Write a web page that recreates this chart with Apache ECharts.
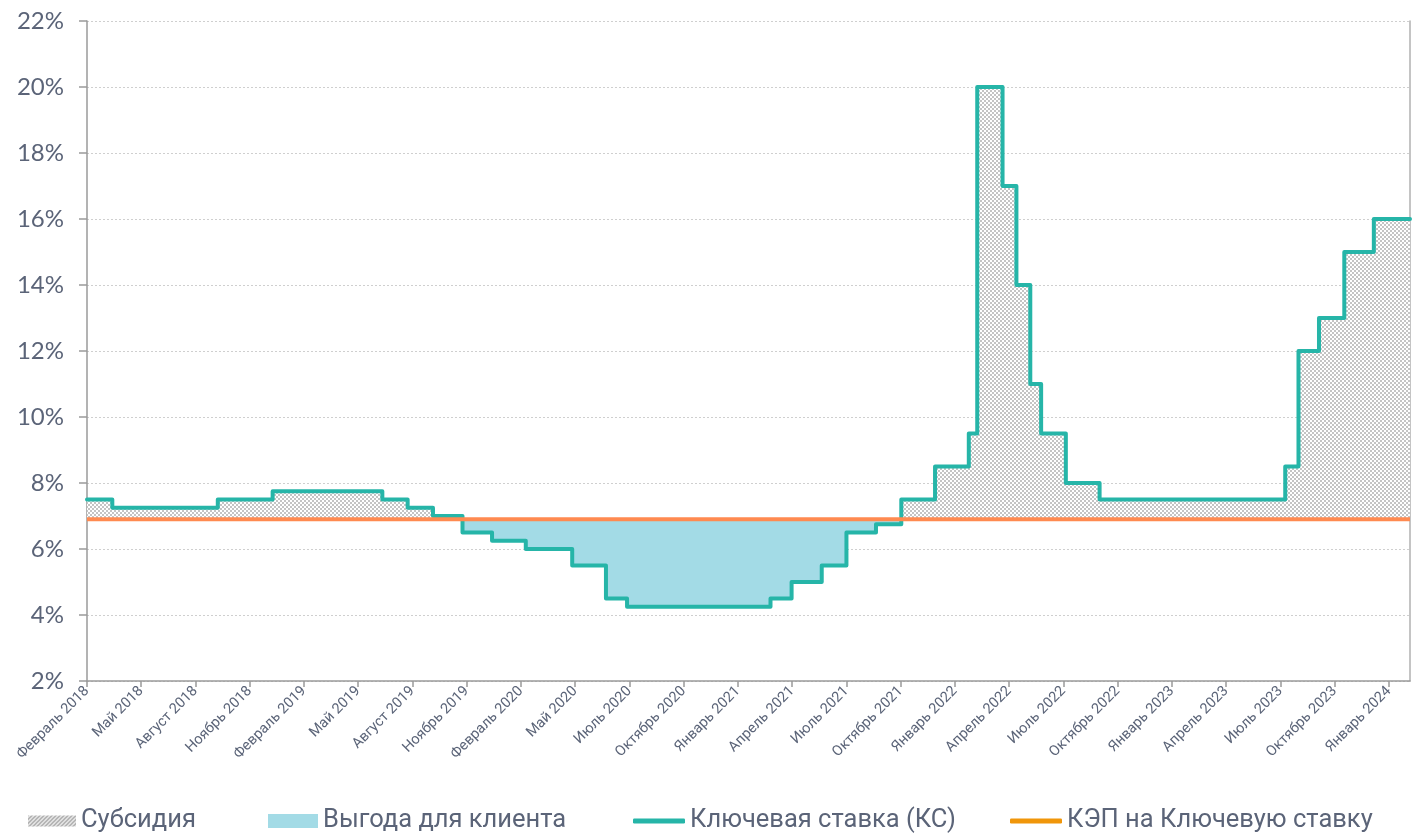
<!DOCTYPE html>
<html><head><meta charset="utf-8">
<script src="https://cdn.jsdelivr.net/npm/echarts@6/dist/echarts.min.js"></script>
<style>html,body{margin:0;padding:0;background:#fff}#c{width:1412px;height:833px}</style>
</head><body><div id="c"></div>
<script>
// Key rate change dates and values (%)
const rateDates = ['2018-02-12','2018-03-26','2018-09-17','2018-12-17','2019-06-17','2019-07-29','2019-09-09','2019-10-28','2019-12-16','2020-02-10','2020-04-27','2020-06-22','2020-07-27','2021-03-22','2021-04-26','2021-06-15','2021-07-26','2021-09-13','2021-10-25','2021-12-20','2022-02-14','2022-02-28','2022-04-11','2022-05-04','2022-05-27','2022-06-14','2022-07-25','2022-09-19','2023-07-24','2023-08-15','2023-09-18','2023-10-30','2023-12-18'];
const rateValues = [7.5,7.25,7.5,7.75,7.5,7.25,7.0,6.5,6.25,6.0,5.5,4.5,4.25,4.5,5.0,5.5,6.5,6.75,7.5,8.5,9.5,20,17,14,11,9.5,8.0,7.5,8.5,12,13,15,16];
const kepValue = 6.9;
const axisStart = '2018-02-12';
const axisEnd = '2024-02-16';
const tickDates = ['2018-02-12','2018-05-13','2018-08-11','2018-11-09','2019-02-07','2019-05-08','2019-08-06','2019-11-04','2020-02-02','2020-05-02','2020-07-31','2020-10-29','2021-01-27','2021-04-27','2021-07-26','2021-10-24','2022-01-22','2022-04-22','2022-07-21','2022-10-19','2023-01-17','2023-04-17','2023-07-16','2023-10-14','2024-01-12'];
const monthNames = ['Январь','Февраль','Март','Апрель','Май','Июнь','Июль','Август','Сентябрь','Октябрь','Ноябрь','Декабрь'];
const yMin = 2, yMax = 22, yStep = 2;
const names = ['Субсидия','Выгода для клиента','Ключевая ставка (КС)','КЭП на Ключевую ставку'];

function ts(s){ return new Date(s + 'T00:00:00').getTime(); }

function checker(){
  const c = document.createElement('canvas'); c.width = 4; c.height = 4;
  const g = c.getContext('2d');
  g.fillStyle = '#ffffff'; g.fillRect(0,0,4,4);
  g.fillStyle = '#c4c4c4'; g.fillRect(0,0,2,2); g.fillRect(2,2,2,2);
  return {image: c, repeat: 'repeat'};
}
function stripes(){
  const c = document.createElement('canvas'); c.width = 4; c.height = 4;
  const g = c.getContext('2d');
  g.fillStyle = '#ffffff'; g.fillRect(0,0,4,4);
  g.strokeStyle = '#a8a8a8'; g.lineWidth = 1.6;
  g.beginPath(); g.moveTo(-1,5); g.lineTo(5,-1); g.stroke();
  g.beginPath(); g.moveTo(-1,1); g.lineTo(1,-1); g.stroke();
  g.beginPath(); g.moveTo(3,5); g.lineTo(5,3); g.stroke();
  return {image: c, repeat: 'repeat'};
}

const ks = rateDates.map((d,i) => [ts(d), rateValues[i]]);
ks.push([ts(axisEnd), rateValues[rateValues.length-1]]);
const subsidy = ks.map(p => [p[0], Math.max(p[1], kepValue)]);
const benefit = ks.map(p => [p[0], Math.min(p[1], kepValue)]);
const kep = [[ts(axisStart), kepValue],[ts(axisEnd), kepValue]];
const ticks = tickDates.map(ts);

const textColor = '#5b6478';
const chart = echarts.init(document.getElementById('c'));
const legendBase = {orient:'horizontal', top: 808, padding:0, itemGap: 0, textStyle:{color:textColor, fontSize:25.5, fontFamily:'Roboto'}, selectedMode:false};
chart.setOption({
  animation:false,
  grid:{left:87, right:2, top:21, bottom:152},
  legend:[
    Object.assign({}, legendBase, {left:28, itemWidth:48, itemHeight:11, data:[{name:names[0], icon:'rect', itemStyle:{color:stripes()}}]}),
    Object.assign({}, legendBase, {left:268, itemWidth:50, itemHeight:14, data:[{name:names[1], icon:'rect', itemStyle:{color:'#a3dbe6'}}]}),
    Object.assign({}, legendBase, {left:633, itemWidth:52, itemHeight:5, data:[{name:names[2], icon:'roundRect', itemStyle:{color:'#26b5a8'}}]}),
    Object.assign({}, legendBase, {left:1010, itemWidth:52, itemHeight:5, data:[{name:names[3], icon:'roundRect', itemStyle:{color:'#f0960a'}}]})
  ],
  xAxis:{
    type:'value', min: ts(axisStart), max: ts(axisEnd), scale:true,
    axisLine:{show:true, lineStyle:{color:'#9a9a9a', width:1.5}},
    axisTick:{show:true, customValues: ticks, length:6, lineStyle:{color:'#9a9a9a', width:1.5}},
    axisLabel:{customValues: ticks, rotate:45, fontSize:14.5, fontFamily:'Roboto', color:textColor, margin:8,
      formatter: v => { const d = new Date(v); return monthNames[d.getMonth()] + ' ' + d.getFullYear(); }},
    splitLine:{show:false}
  },
  yAxis:[{
    type:'value', min:yMin, max:yMax, interval:yStep,
    axisLine:{show:true, lineStyle:{color:'#9a9a9a', width:1.5}},
    axisTick:{show:true, length:8, lineStyle:{color:'#9a9a9a', width:1.5}},
    axisLabel:{formatter:'{value}%', fontSize:24, fontFamily:'Lato', color:textColor, margin:23},
    splitLine:{show:true, lineStyle:{color:'#cfcfcf', type:[2,2], width:1}}
  },{
    type:'value', min:yMin, max:yMax, interval:yStep, position:'right',
    axisLine:{show:true, lineStyle:{color:'#b0b0b0', width:1.5}},
    axisTick:{show:false}, axisLabel:{show:false}, splitLine:{show:false}
  }],
  series:[
    {name:names[0], type:'line', step:'end', data:subsidy, showSymbol:false, symbol:'none',
     lineStyle:{width:0}, itemStyle:{color:checker()}, areaStyle:{origin:kepValue, color:checker(), opacity:1}, z:1},
    {name:names[1], type:'line', step:'end', data:benefit, showSymbol:false, symbol:'none',
     lineStyle:{width:0}, itemStyle:{color:'#a3dbe6'}, areaStyle:{origin:kepValue, color:'#a3dbe6', opacity:1}, z:1},
    {name:names[2], type:'line', step:'end', data:ks, showSymbol:false, symbol:'none',
     lineStyle:{width:4, color:'#26b5a8', join:'round', cap:'round'}, itemStyle:{color:'#26b5a8'}, z:3},
    {name:names[3], type:'line', data:kep, showSymbol:false, symbol:'none',
     lineStyle:{width:4, color:'#ff8a50'}, itemStyle:{color:'#f0960a'}, z:4}
  ]
});
</script></body></html>
